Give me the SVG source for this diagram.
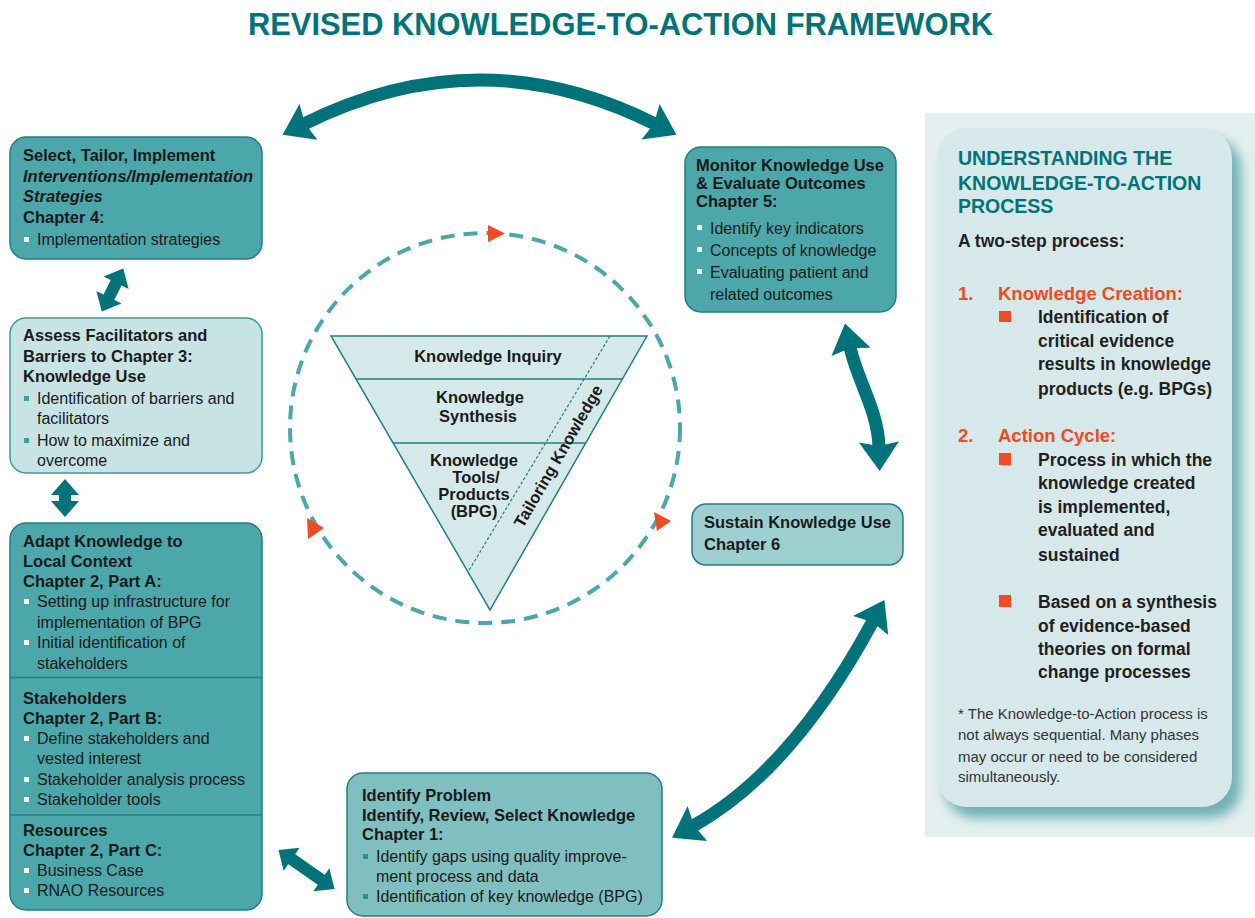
<svg xmlns="http://www.w3.org/2000/svg" width="1255" height="918" viewBox="0 0 1255 918">
<style>
text{font-family:"Liberation Sans",Arial,sans-serif;fill:#1a1a1a}
.h{font-weight:bold;font-size:16.5px}
.hi{font-weight:bold;font-style:italic;font-size:16.5px}
.b{font-size:16px}
.box{fill:#4ba7a9;stroke:#237e82;stroke-width:1.5}
.wb{fill:#ffffff}
.tb{fill:#3e9fa2}
.title{font-weight:bold;font-size:30.5px;fill:#00737a}
.pt{font-weight:bold;font-size:19.5px;fill:#00737a}
.pb{font-weight:bold;font-size:17.5px;fill:#231f20}
.po{font-weight:bold;font-size:18.5px;fill:#f04b23}
.ob{fill:#f04b23}
.note{font-size:15px;fill:#333333}
.tri{font-weight:bold;font-size:16.5px;text-anchor:middle}
.big{fill:none;stroke:#00727a;stroke-width:13}
.sm{fill:none;stroke:#00727a;stroke-width:12}
.oa{fill:#f04b23}
</style>
<defs>
<marker id="hb" markerUnits="userSpaceOnUse" markerWidth="60" markerHeight="60" viewBox="-10 -30 60 60" refX="0" refY="0" orient="auto-start-reverse" overflow="visible"><path d="M-1,0 L-5,-20 L24,0 L-5,20 Z" fill="#00727a"/></marker>
<marker id="hs" markerUnits="userSpaceOnUse" markerWidth="40" markerHeight="40" viewBox="-10 -20 40 40" refX="0" refY="0" orient="auto-start-reverse" overflow="visible"><path d="M-2,-14 L14,0 L-2,14 Z" fill="#00727a"/></marker>
<filter id="sh" x="-20%" y="-20%" width="140%" height="140%"><feGaussianBlur stdDeviation="6"/></filter>
</defs>

<text class="title" x="248" y="35" textLength="745" lengthAdjust="spacingAndGlyphs">REVISED KNOWLEDGE-TO-ACTION FRAMEWORK</text>

<g id="connectors">
<path class="big" d="M304,124 Q480,36 655,124" marker-start="url(#hb)" marker-end="url(#hb)"/>
<path class="big" d="M850,347 C857,380 878,410 879,447" marker-start="url(#hb)" marker-end="url(#hb)"/>
<path class="big" d="M873,621 Q792,771 693,826" marker-start="url(#hb)" marker-end="url(#hb)"/>
<path class="sm" d="M108,299 L117,281" marker-start="url(#hs)" marker-end="url(#hs)"/>
<path class="sm" d="M65,493 L65,503" marker-start="url(#hs)" marker-end="url(#hs)"/>
<path class="sm" d="M290,858 L323,881" marker-start="url(#hs)" marker-end="url(#hs)"/>
</g>

<g id="cycle">
<circle cx="485" cy="428" r="195" fill="none" stroke="#4aa7aa" stroke-width="4" stroke-dasharray="14 9"/>
<polygon class="oa" points="488,225 505,233.5 488,242"/>
<polygon class="oa" points="307,518 324,528 308,539"/>
<polygon class="oa" points="654,512 671,521 657,531"/>
</g>

<g id="funnel">
<polygon points="331,336 647,336 490,610" fill="#d6e9ea" stroke="#237e82" stroke-width="1.5"/>
<line x1="356" y1="379" x2="622" y2="379" stroke="#237e82" stroke-width="1.5"/>
<line x1="393" y1="443" x2="586" y2="443" stroke="#237e82" stroke-width="1.5"/>
<line x1="610" y1="336" x2="468" y2="572" stroke="#237e82" stroke-width="1.2" stroke-dasharray="3 2"/>
<text class="tri" x="488" y="362">Knowledge Inquiry</text>
<text class="tri" x="480" y="403">Knowledge</text>
<text class="tri" x="478" y="422">Synthesis</text>
<text class="tri" x="474" y="466">Knowledge</text>
<text class="tri" x="476" y="483">Tools/</text>
<text class="tri" x="474" y="500">Products</text>
<text class="tri" x="474" y="517">(BPG)</text>
<text class="tri" transform="translate(558,456) rotate(-60)" x="0" y="6">Tailoring Knowledge</text>
</g>

<g id="select">
<rect class="box" x="10" y="137" width="252" height="122" rx="16"/>
<text class="h" x="23" y="161">Select, Tailor, Implement</text>
<text class="hi" x="23" y="181.5">Interventions/Implementation</text>
<text class="hi" x="23" y="202">Strategies</text>
<text class="h" x="23" y="222.5">Chapter 4:</text>
<rect class="wb" x="24" y="237" width="5" height="5"/>
<text class="b" x="37" y="245">Implementation strategies</text>
</g>

<g id="assess">
<rect x="10" y="318" width="252" height="155" rx="16" fill="#c8e3e4" stroke="#3b9a9c" stroke-width="1.5"/>
<text class="h" x="23" y="341">Assess Facilitators and</text>
<text class="h" x="23" y="362">Barriers to Chapter 3:</text>
<text class="h" x="23" y="382">Knowledge Use</text>
<rect class="tb" x="24" y="396" width="5" height="5"/>
<text class="b" x="37" y="404">Identification of barriers and</text>
<text class="b" x="37" y="424">facilitators</text>
<rect class="tb" x="24" y="438" width="5" height="5"/>
<text class="b" x="37" y="446">How to maximize and</text>
<text class="b" x="37" y="466">overcome</text>
</g>

<g id="adapt">
<rect class="box" x="10" y="523" width="252" height="387" rx="16"/>
<line x1="10" y1="677.5" x2="262" y2="677.5" stroke="#237e82" stroke-width="1.5"/>
<line x1="10" y1="815" x2="262" y2="815" stroke="#237e82" stroke-width="1.5"/>
<text class="h" x="23" y="547">Adapt Knowledge to</text>
<text class="h" x="23" y="567">Local Context</text>
<text class="h" x="23" y="587">Chapter 2, Part A:</text>
<rect class="wb" x="24" y="599" width="5" height="5"/>
<text class="b" x="37" y="607">Setting up infrastructure for</text>
<text class="b" x="37" y="628">implementation of BPG</text>
<rect class="wb" x="24" y="640" width="5" height="5"/>
<text class="b" x="37" y="648">Initial identification of</text>
<text class="b" x="37" y="669">stakeholders</text>
<text class="h" x="23" y="704">Stakeholders</text>
<text class="h" x="23" y="724">Chapter 2, Part B:</text>
<rect class="wb" x="24" y="736" width="5" height="5"/>
<text class="b" x="37" y="744">Define stakeholders and</text>
<text class="b" x="37" y="764">vested interest</text>
<rect class="wb" x="24" y="777" width="5" height="5"/>
<text class="b" x="37" y="785">Stakeholder analysis process</text>
<rect class="wb" x="24" y="797" width="5" height="5"/>
<text class="b" x="37" y="805">Stakeholder tools</text>
<text class="h" x="23" y="836">Resources</text>
<text class="h" x="23" y="856">Chapter 2, Part C:</text>
<rect class="wb" x="24" y="868" width="5" height="5"/>
<text class="b" x="37" y="876">Business Case</text>
<rect class="wb" x="24" y="888" width="5" height="5"/>
<text class="b" x="37" y="896">RNAO Resources</text>
</g>

<g id="identify">
<rect x="347" y="773" width="315" height="143" rx="16" fill="#80bfc0" stroke="#237e82" stroke-width="1.5"/>
<text class="h" x="362" y="801">Identify Problem</text>
<text class="h" x="362" y="821">Identify, Review, Select Knowledge</text>
<text class="h" x="362" y="840">Chapter 1:</text>
<rect x="363" y="854" width="5" height="5" fill="#2a8f93"/>
<text class="b" x="376" y="862">Identify gaps using quality improve-</text>
<text class="b" x="376" y="882">ment process and data</text>
<rect x="363" y="894" width="5" height="5" fill="#2a8f93"/>
<text class="b" x="376" y="902">Identification of key knowledge (BPG)</text>
</g>

<g id="monitor">
<rect class="box" x="685" y="147" width="211" height="165" rx="16"/>
<text class="h" x="696" y="171">Monitor Knowledge Use</text>
<text class="h" x="696" y="189">&amp; Evaluate Outcomes</text>
<text class="h" x="696" y="207">Chapter 5:</text>
<rect class="wb" x="697" y="225" width="5" height="5"/>
<text class="b" x="710" y="234">Identify key indicators</text>
<rect class="wb" x="697" y="247" width="5" height="5"/>
<text class="b" x="710" y="256">Concepts of knowledge</text>
<rect class="wb" x="697" y="269" width="5" height="5"/>
<text class="b" x="710" y="278">Evaluating patient and</text>
<text class="b" x="710" y="300">related outcomes</text>
</g>

<g id="sustain">
<rect x="692" y="504" width="211" height="61" rx="14" fill="#9dcfd0" stroke="#237e82" stroke-width="1.5"/>
<text class="h" x="704" y="528">Sustain Knowledge Use</text>
<text class="h" x="704" y="550">Chapter 6</text>
</g>

<g id="panel">
<rect x="925" y="113" width="330" height="724" fill="#e4eff0"/>
<rect x="945" y="138" width="296" height="680" rx="30" fill="#6fb0b4" filter="url(#sh)"/>
<rect x="937" y="128" width="295" height="679" rx="30" fill="#d6e8e9"/>
<text class="pt" x="958" y="165">UNDERSTANDING THE</text>
<text class="pt" x="958" y="190">KNOWLEDGE-TO-ACTION</text>
<text class="pt" x="958" y="213">PROCESS</text>
<text class="pb" x="958" y="247">A two-step process:</text>
<text class="po" x="958" y="300">1.</text>
<text class="po" x="998" y="300">Knowledge Creation:</text>
<rect class="ob" x="999" y="311" width="12" height="11"/>
<text class="pb" x="1038" y="323">Identification of</text>
<text class="pb" x="1038" y="347">critical evidence</text>
<text class="pb" x="1038" y="370">results in knowledge</text>
<text class="pb" x="1038" y="395">products (e.g. BPGs)</text>
<text class="po" x="958" y="442">2.</text>
<text class="po" x="998" y="442">Action Cycle:</text>
<rect class="ob" x="999" y="453" width="12" height="12"/>
<text class="pb" x="1038" y="466">Process in which the</text>
<text class="pb" x="1038" y="489">knowledge created</text>
<text class="pb" x="1038" y="513">is implemented,</text>
<text class="pb" x="1038" y="536">evaluated and</text>
<text class="pb" x="1038" y="561">sustained</text>
<rect class="ob" x="999" y="595" width="12" height="12"/>
<text class="pb" x="1038" y="608">Based on a synthesis</text>
<text class="pb" x="1038" y="632">of evidence-based</text>
<text class="pb" x="1038" y="655">theories on formal</text>
<text class="pb" x="1038" y="678">change processes</text>
<text class="note" x="958" y="719">* The Knowledge-to-Action process is</text>
<text class="note" x="958" y="740">not always sequential. Many phases</text>
<text class="note" x="958" y="762">may occur or need to be considered</text>
<text class="note" x="958" y="782">simultaneously.</text>
</g>
</svg>
